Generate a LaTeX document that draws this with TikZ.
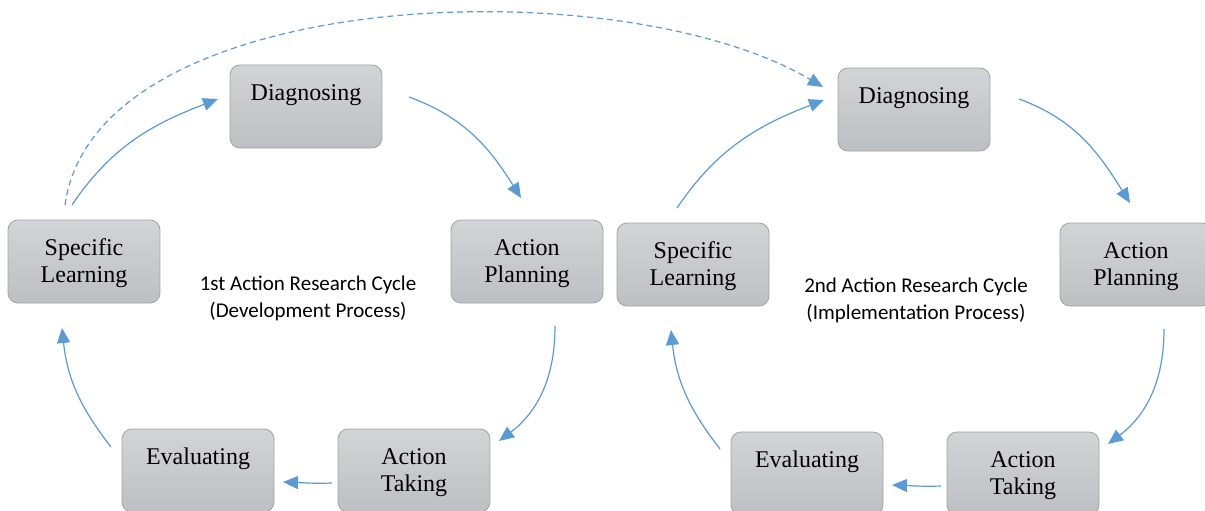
\documentclass[tikz,border=0pt]{standalone}
\usepackage{fontspec}
\usetikzlibrary{arrows.meta}
\newfontfamily\boxfont{Liberation Serif}
\newfontfamily\midfont{Carlito}
\newcommand{\bstrut}{\rule[-6pt]{0pt}{27pt}}
\definecolor{boxtop}{HTML}{D3D4D6}
\definecolor{boxbot}{HTML}{BEBFC2}
\definecolor{boxline}{HTML}{A3A3A5}
\definecolor{arr}{HTML}{5B9BD5}
\tikzset{
  stagebox/.style={draw=boxline, line width=0.8pt, rounded corners=10pt,
    top color=boxtop, bottom color=boxbot, minimum width=152pt,
    minimum height=83pt, inner sep=0pt, align=center,
    font=\boxfont\fontsize{24}{27}\selectfont},
  cyclabel/.style={align=center, inner sep=0pt, font=\midfont\fontsize{21}{27}\selectfont},
  flow/.style={draw=arr, line width=1.2pt, -{Triangle[length=15pt,width=13pt]}},
  dashflow/.style={flow, dash pattern=on 6pt off 4pt}
}
\begin{document}
\begin{tikzpicture}[x=1pt,y=1pt]
\useasboundingbox (0,-511) rectangle (1205,0);
\fill[white] (0,-511) rectangle (1205,0);
% first cycle
\node[stagebox] (diag1) at (306,-106.5) {\bstrut Diagnosing\\\bstrut};
\node[stagebox] (sl1) at (84,-261.5) {\bstrut Specific\\\bstrut Learning};
\node[stagebox] (ap1) at (527,-261.5) {\bstrut Action\\\bstrut Planning};
\node[stagebox] (ev1) at (198,-470.5) {\bstrut Evaluating\\\bstrut};
\node[stagebox] (at1) at (414,-470.5) {\bstrut Action\\\bstrut Taking};
\node[cyclabel] (lab1) at (308,-298) {1st Action Research Cycle\\(Development Process)};
% second cycle
\node[stagebox] (diag2) at (914,-109.5) {\bstrut Diagnosing\\\bstrut};
\node[stagebox] (sl2) at (693,-264.5) {\bstrut Specific\\\bstrut Learning};
\node[stagebox] (ap2) at (1136,-264.5) {\bstrut Action\\\bstrut Planning};
\node[stagebox] (ev2) at (807,-473.5) {\bstrut Evaluating\\\bstrut};
\node[stagebox] (at2) at (1023,-473.5) {\bstrut Action\\\bstrut Taking};
\node[cyclabel] (lab2) at (916,-300) {2nd Action Research Cycle\\(Implementation Process)};
% connector ends
\coordinate (a1s) at (72,-205);   \coordinate (a1e) at (218,-99);
\coordinate (a2s) at (409,-97);   \coordinate (a2e) at (521,-198);
\coordinate (a3s) at (555,-326);  \coordinate (a3e) at (499,-441);
\coordinate (a4s) at (332,-483);  \coordinate (a4e) at (283,-482);
\coordinate (a5s) at (111,-447);  \coordinate (a5e) at (62,-328);
\coordinate (b1s) at (677,-208);  \coordinate (b1e) at (824,-100);
\coordinate (b2s) at (1019,-99);  \coordinate (b2e) at (1130,-203);
\coordinate (b3s) at (1164,-329); \coordinate (b3e) at (1108,-444);
\coordinate (b4s) at (941,-486);  \coordinate (b4e) at (892,-485);
\coordinate (b5s) at (720,-449);  \coordinate (b5e) at (671,-330);
\coordinate (ds) at (65,-205);    \coordinate (de) at (823,-87);
% arrows
\draw[flow] (a1s) to[out=56,in=201] (a1e);
\draw[flow] (a2s) to[out=-20,in=122] (a2e);
\draw[flow] (a3s) to[out=-90,in=37] (a3e);
\draw[flow] (a4s) to[out=182,in=-2] (a4e);
\draw[flow] (a5s) to[out=128,in=-84] (a5e);
\draw[flow] (b1s) to[out=56,in=201] (b1e);
\draw[flow] (b2s) to[out=-20,in=122] (b2e);
\draw[flow] (b3s) to[out=-90,in=37] (b3e);
\draw[flow] (b4s) to[out=182,in=-2] (b4e);
\draw[flow] (b5s) to[out=128,in=-84] (b5e);
\draw[dashflow] (ds) .. controls (95,15) and (620,33) .. (de);
\end{tikzpicture}
\end{document}
